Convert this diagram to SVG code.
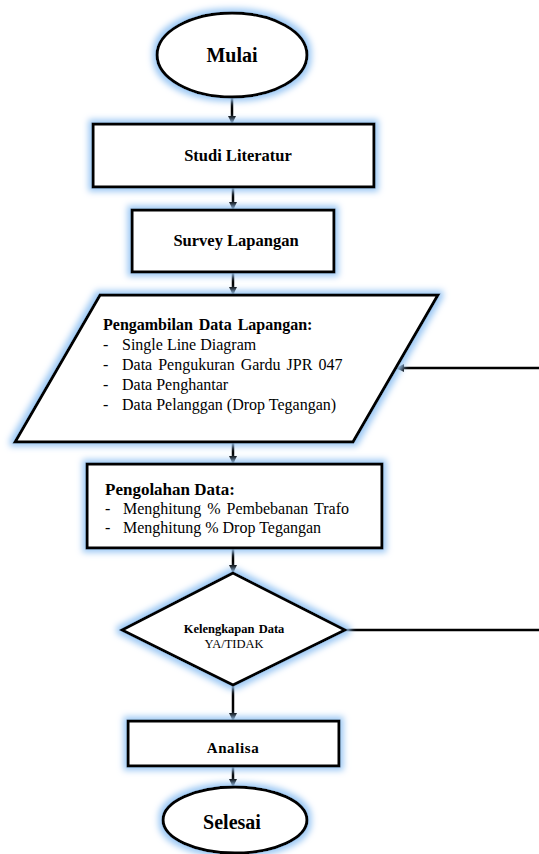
<svg xmlns="http://www.w3.org/2000/svg" width="539" height="854" viewBox="0 0 539 854">
<defs>
<filter id="glow" x="-20%" y="-30%" width="140%" height="160%">
<feMorphology in="SourceAlpha" operator="dilate" radius="3" result="d"/>
<feGaussianBlur in="d" stdDeviation="3" result="b"/>
<feFlood flood-color="#9cc8f4"/>
<feComposite in2="b" operator="in" result="g"/>
<feMerge><feMergeNode in="g"/><feMergeNode in="SourceGraphic"/></feMerge>
</filter>
<marker id="arr" markerWidth="8" markerHeight="8" refX="7" refY="4" orient="auto" markerUnits="userSpaceOnUse">
<path d="M0,0 L8,4 L0,8 Z" fill="#000"/>
</marker>
</defs>
<style>
.shape{fill:#fff;stroke:#000;stroke-width:3;filter:url(#glow)}
.conn{stroke:#000;stroke-width:2.5;fill:none}
text{font-family:"Liberation Serif","Times New Roman",serif;fill:#000}
.b{font-weight:bold}
.c{text-anchor:middle}
</style>
<rect width="539" height="854" fill="#fff"/>
<g id="connectors">
<line class="conn" x1="232" y1="98" x2="232" y2="123" marker-end="url(#arr)"/>
<line class="conn" x1="233" y1="188" x2="233" y2="209" marker-end="url(#arr)"/>
<line class="conn" x1="233" y1="273" x2="233" y2="294" marker-end="url(#arr)"/>
<line class="conn" x1="233" y1="443" x2="233" y2="463" marker-end="url(#arr)"/>
<line class="conn" x1="233" y1="549" x2="233" y2="572" marker-end="url(#arr)"/>
<line class="conn" x1="233" y1="686" x2="233" y2="720" marker-end="url(#arr)"/>
<line class="conn" x1="233" y1="767" x2="233" y2="786" marker-end="url(#arr)"/>
<line class="conn" x1="345" y1="630" x2="539" y2="630"/>
<line class="conn" x1="539" y1="368" x2="397" y2="368" marker-end="url(#arr)"/>
</g>
<g id="mulai">
<ellipse class="shape" cx="232" cy="55" rx="75" ry="42"/>
<text class="b c" x="232" y="62" font-size="20">Mulai</text>
</g>
<g id="studi">
<rect class="shape" x="93" y="124" width="281" height="63"/>
<text class="b c" x="238" y="161" font-size="16.5">Studi Literatur</text>
</g>
<g id="survey">
<rect class="shape" x="132" y="210" width="202" height="62"/>
<text class="b c" x="236" y="246" font-size="16.5">Survey Lapangan</text>
</g>
<g id="pengambilan">
<polygon class="shape" points="100,295 438,295 353,442 15,442"/>
<text class="b" x="103" y="330" font-size="16" word-spacing="2">Pengambilan  Data Lapangan:</text>
<text x="103" y="350" font-size="16">-</text><text x="122" y="350" font-size="16">Single Line Diagram</text>
<text x="103" y="370" font-size="16">-</text><text x="122" y="370" font-size="16" word-spacing="2">Data Pengukuran Gardu JPR 047</text>
<text x="103" y="390" font-size="16">-</text><text x="122" y="390" font-size="16">Data Penghantar</text>
<text x="103" y="410" font-size="16">-</text><text x="122" y="410" font-size="16">Data Pelanggan (Drop Tegangan)</text>
</g>
<g id="pengolahan">
<rect class="shape" x="87" y="464" width="295" height="84"/>
<text class="b" x="105" y="495" font-size="17">Pengolahan Data:</text>
<text x="105" y="514" font-size="16">-</text><text x="123" y="514" font-size="16" word-spacing="2">Menghitung  % Pembebanan  Trafo</text>
<text x="105" y="533" font-size="16">-</text><text x="123" y="533" font-size="16">Menghitung % Drop Tegangan</text>
</g>
<g id="kelengkapan">
<polygon class="shape" points="233,573 345,630 233,685 122,630"/>
<text class="b c" x="234" y="633" font-size="12.5" word-spacing="1">Kelengkapan Data</text>
<text class="c" x="234" y="648" font-size="12.5">YA/TIDAK</text>
</g>
<g id="analisa">
<rect class="shape" x="128" y="721" width="211" height="45"/>
<text class="b c" x="233" y="753" font-size="15" letter-spacing="0.6">Analisa</text>
</g>
<g id="selesai">
<ellipse class="shape" cx="235" cy="820" rx="72" ry="33"/>
<text class="b c" x="232" y="829" font-size="20">Selesai</text>
</g>
</svg>
